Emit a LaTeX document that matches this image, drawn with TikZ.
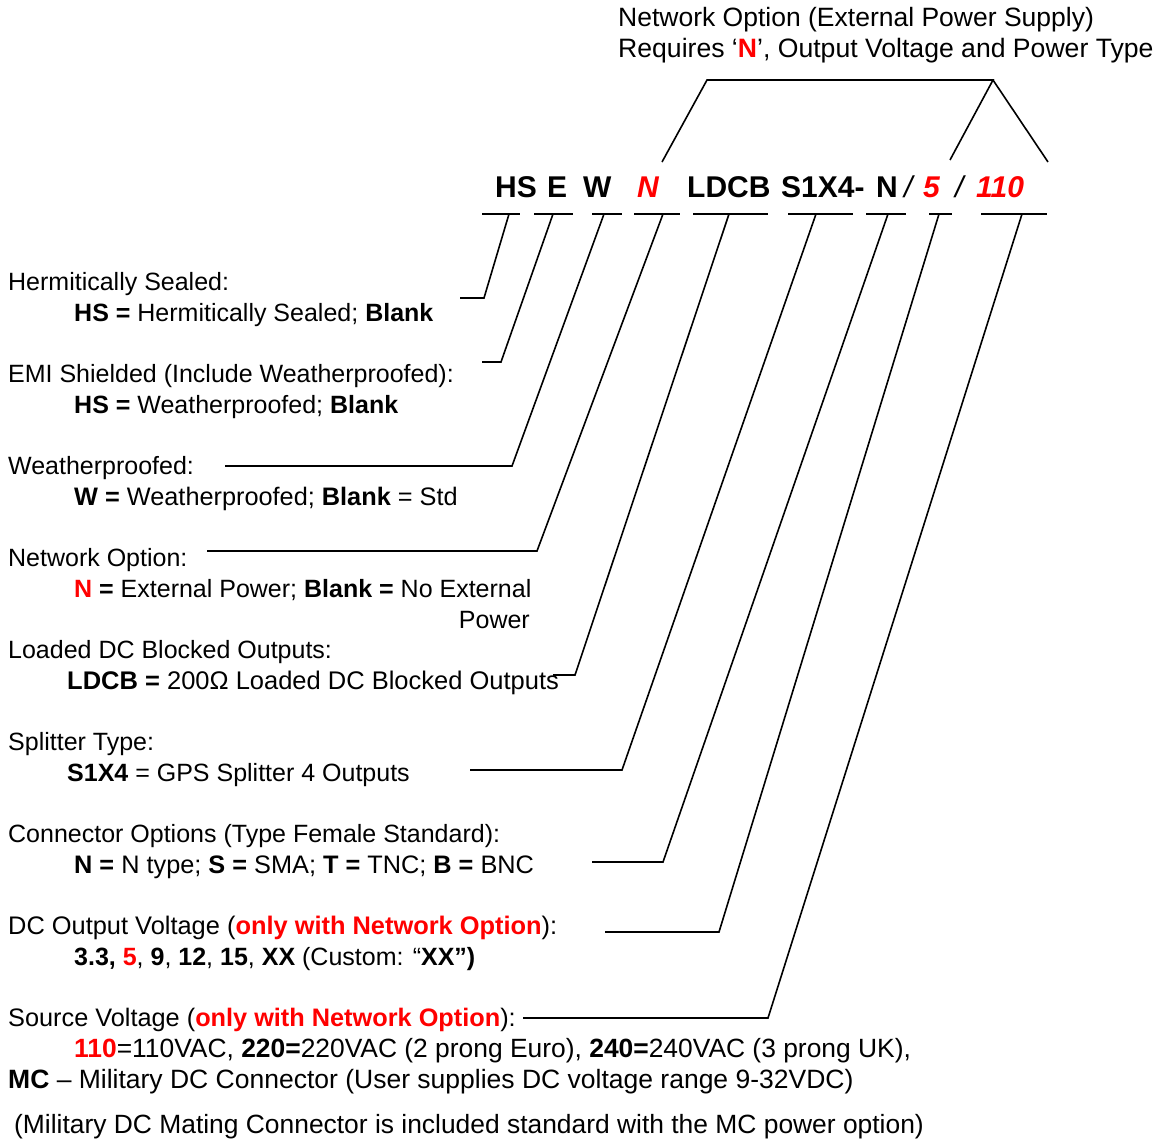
\documentclass[tikz,border=0pt]{standalone}
\usepackage{fontspec}
\setmainfont{Liberation Sans}
\definecolor{optred}{RGB}{255,0,0}
\newcommand{\rb}[1]{\textcolor{optred}{\textbf{#1}}}
\newcommand{\fs}[1]{\fontsize{#1}{31}\selectfont}
\begin{document}
\begin{tikzpicture}[x=1pt,y=-1pt,
  lbl/.style={anchor=base west,inner sep=0pt,font=\fs{25}},
  code/.style={anchor=base west,inner sep=0pt,font=\fontsize{30}{36}\selectfont\bfseries},
  codeit/.style={anchor=base west,inner sep=0pt,text=optred,font=\fontsize{30}{36}\selectfont\bfseries\itshape},
  slash/.style={anchor=base west,inner sep=0pt,font=\fontsize{30}{36}\selectfont\itshape},
  lead/.style={line width=1.6pt,line join=miter},
  ul/.style={line width=1.6pt}]
\useasboundingbox (0,0) rectangle (1160,1141);

% top note
\node[lbl,font=\fs{26.5}] (top1) at (618,26) {Network Option (External Power Supply)};
\node[lbl,font=\fs{26.6}] (top2) at (618,57) {Requires ‘\rb{N}’, Output Voltage and Power Type};

% code line
\node[code] (cHS) at (495,197) {HS};
\node[code] (cE) at (547,197) {E};
\node[code] (cW) at (583,197) {W};
\node[codeit] (cN) at (637,197) {N};
\node[code] (cL) at (687,197) {LDCB};
\node[code] (cS) at (781,197) {S1X4-};
\node[code] (cC) at (876,197) {N};
\node[slash] (s1) at (904,197) {/};
\node[codeit] (c5) at (923,197) {5};
\node[slash] (s2) at (955,197) {/};
\node[codeit] (c110) at (976,197) {110};

% bracket
\coordinate (b1) at (662,162);
\coordinate (b2) at (707,80);
\coordinate (b3) at (993,80);
\coordinate (b4) at (950,160);
\coordinate (b5) at (1048,162);
\draw[lead] (b1) -- (b2) -- (b3) -- (b4);
\draw[lead] (b3) -- (b5);

% underlines
\foreach \i/\a/\b in {1/482/520,2/534/573,3/592/622,4/634/680,5/693/768,6/788/853,7/866/906,8/929/952,9/981/1047}{
  \coordinate (ua\i) at (\a,214);
  \coordinate (ub\i) at (\b,214);
  \draw[ul] (ua\i) -- (ub\i);
}

% leaders
\foreach \i/\t/\kx/\ky/\ex in {1/509/484/298/460,2/553/501/362/482,3/604/512/466/225,4/663/537/551/207,5/729/575/675/553,6/816/622/770/470,7/888/663/862/592,8/939/719/932/605,9/1022/768/1018/523}{
  \coordinate (t\i) at (\t,214);
  \coordinate (k\i) at (\kx,\ky);
  \coordinate (e\i) at (\ex,\ky);
  \draw[lead] (t\i) -- (k\i) -- (e\i);
}

% labels
\node[lbl] (l1a) at (8,290) {Hermitically Sealed:};
\node[lbl] (l1b) at (74,321) {\textbf{HS =} Hermitically Sealed; \textbf{Blank}};

\node[lbl] (l2a) at (8,382) {EMI Shielded (Include Weatherproofed):};
\node[lbl] (l2b) at (74,413) {\textbf{HS =} Weatherproofed; \textbf{Blank}};

\node[lbl] (l3a) at (8,474) {Weatherproofed:};
\node[lbl,font=\fs{25.3}] (l3b) at (74,505) {\textbf{W =} Weatherproofed; \textbf{Blank} = Std};

\node[lbl] (l4a) at (8,566) {Network Option:};
\node[lbl] (l4b) at (74,597) {\rb{N} \textbf{=} External Power; \textbf{Blank =} No External};
\node[lbl,anchor=base east] (l4c) at (530,628) {Power};

\node[lbl] (l5a) at (8,658) {Loaded DC Blocked Outputs:};
\node[lbl,font=\fs{25.5}] (l5b) at (67,689) {\textbf{LDCB =} 200Ω Loaded DC Blocked Outputs};

\node[lbl] (l6a) at (8,750) {Splitter Type:};
\node[lbl] (l6b) at (67,781) {\textbf{S1X4} = GPS Splitter 4 Outputs};

\node[lbl] (l7a) at (8,842) {Connector Options (Type Female Standard):};
\node[lbl,font=\fs{25.3}] (l7b) at (74,873) {\textbf{N =} N type; \textbf{S =} SMA; \textbf{T =} TNC; \textbf{B =} BNC};

\node[lbl,font=\fs{25.4}] (l8a) at (8,934) {DC Output Voltage (\rb{only with Network Option}):};
\node[lbl] (l8b) at (74,965) {\textbf{3.3,} \rb{5}, \textbf{9}, \textbf{12}, \textbf{15}, \textbf{XX} (Custom: “\textbf{XX”)}};

\node[lbl,font=\fs{25.3}] (l9a) at (8,1026) {Source Voltage (\rb{only with Network Option}):};
\node[lbl,font=\fs{26.4}] (l9b) at (74,1057) {\rb{110}=110VAC, \textbf{220=}220VAC (2 prong Euro), \textbf{240=}240VAC (3 prong UK),};
\node[lbl,font=\fs{26.5}] (l9c) at (8,1088) {\textbf{MC} – Military DC Connector (User supplies DC voltage range 9-32VDC)};

\node[lbl,font=\fs{26.4}] (l10) at (14,1133) {(Military DC Mating Connector is included standard with the MC power option)};
\end{tikzpicture}
\end{document}
